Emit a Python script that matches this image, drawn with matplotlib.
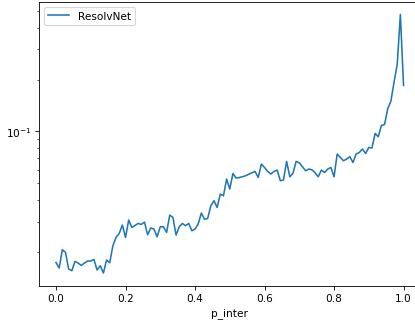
# -*- coding: utf-8 -*-

import numpy as np
import matplotlib
matplotlib.use('Agg')
import matplotlib.pyplot as plt

# 误差随 p_inter 变化
resolvnet_err = [
    0.01738, 0.01613, 0.02059, 0.01986, 0.01592, 0.01556, 0.01761, 0.01724, 0.01670, 0.01724,
    0.01771, 0.01771, 0.01809, 0.01571, 0.01663, 0.01509, 0.01795, 0.01731, 0.02173, 0.02427,
    0.02561, 0.02865, 0.02427, 0.03063, 0.02774, 0.02849, 0.02926, 0.02888, 0.02981, 0.02517,
    0.02753, 0.02716, 0.02450, 0.02800, 0.02800, 0.02595, 0.03273, 0.03170, 0.02506, 0.02800,
    0.02926, 0.02838, 0.02926, 0.02655, 0.02716, 0.02903, 0.03363, 0.03096, 0.03128, 0.03706,
    0.03962, 0.03623, 0.04333, 0.04236, 0.05295, 0.04633, 0.05706, 0.05368, 0.05402, 0.05460,
    0.05534, 0.05646, 0.05760, 0.05861, 0.05410, 0.06470, 0.06183, 0.05861, 0.05661, 0.05861,
    0.05972, 0.05176, 0.05225, 0.06699, 0.05460, 0.05706, 0.06699, 0.06584, 0.06241, 0.05916,
    0.06052, 0.05996, 0.05760, 0.05460, 0.05972, 0.05783, 0.06052, 0.06183, 0.05460, 0.07395,
    0.07067, 0.06762, 0.06917, 0.07133, 0.06610, 0.07395, 0.07554, 0.07906, 0.07454, 0.08076,
    0.08014, 0.09736, 0.09317, 0.10840, 0.10990, 0.13550, 0.15000, 0.19340, 0.24490, 0.47760,
    0.18500,
]
p_inter = np.linspace(0, 1, len(resolvnet_err))

dpi = 76
fig = plt.figure(figsize=(415.5 / dpi, 322.5 / dpi), dpi=dpi)
# 右边框在画布外被裁掉
ax = fig.add_axes([38.6 / 415, 1 - 286 / 322, (420.4 - 38.6) / 415, (286 - 2) / 322])

ax.plot(p_inter, resolvnet_err, label='ResolvNet')
ax.set_yscale('log')
ax.set_xlabel('p_inter')
ax.legend(loc='upper left')

plt.savefig('out.png', dpi=dpi)
plt.close('all')
